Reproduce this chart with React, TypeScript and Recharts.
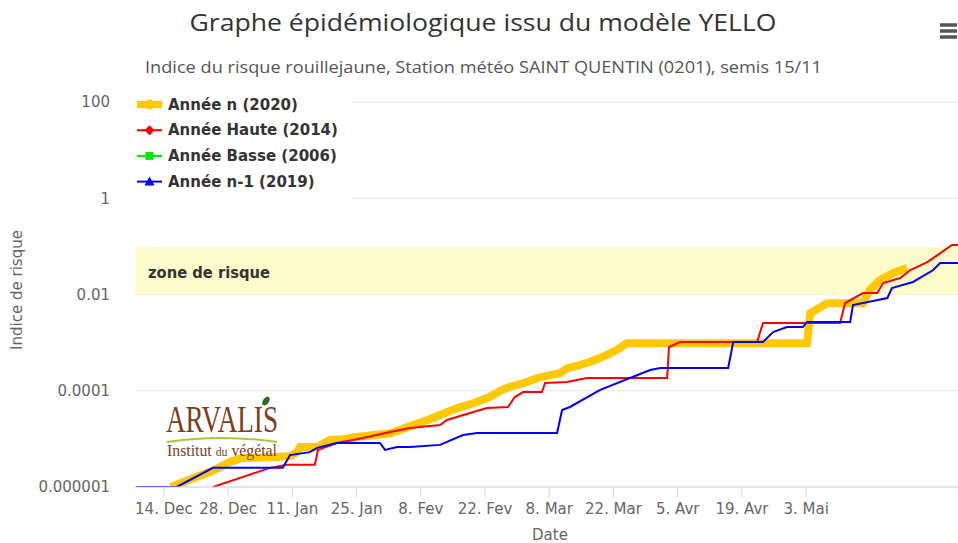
import React from 'react'
import { LineChart, Line, XAxis, YAxis, CartesianGrid, ReferenceArea } from 'recharts'

// days counted from 1 Dec (0 = 1 Dec)
const tickDays = [13, 27, 41, 55, 69, 83, 97, 111, 125, 139, 153]
const tickLabels = ['14. Dec', '28. Dec', '11. Jan', '25. Jan', '8. Fev', '22. Fev', '8. Mar', '22. Mar', '5. Avr', '19. Avr', '3. Mai']
const yTicks = [0.000001, 0.0001, 0.01, 1, 100]
const yTickLabels = ['0.000001', '0.0001', '0.01', '1', '100']

// Année n (2020)
const anneeNDays = [14.5, 23.7, 27.4, 30, 37.6, 40.5, 42, 42.7, 46.4, 49.2, 52, 55.1, 62.3, 69.5, 73.2, 76.8, 80.4, 84.1, 86.3, 88.4, 91.3, 94.3, 97.2, 99.3, 100.8, 103, 105.9, 108.8, 111.7, 113.9, 153.2, 153.9, 157.6, 165.4, 166.9, 169.1, 172, 175]
const anneeNValues = [1e-6, 2.2e-6, 3.3e-6, 4.0e-6, 4.2e-6, 4.4e-6, 5.3e-6, 6.8e-6, 6.8e-6, 9.5e-6, 9.8e-6, 1.09e-5, 1.31e-5, 2.28e-5, 3.13e-5, 4.3e-5, 5.5e-5, 7.5e-5, 1.0e-4, 1.21e-4, 1.43e-4, 1.82e-4, 2.12e-4, 2.3e-4, 2.92e-4, 3.27e-4, 4.0e-4, 5.1e-4, 7.0e-4, 9.7e-4, 9.7e-4, 4.1e-3, 6.6e-3, 6.6e-3, 1.24e-2, 2.0e-2, 2.8e-2, 3.56e-2]

// Année Haute (2014)
const hauteDays = [23.7, 36.1, 39.8, 45.9, 46.6, 50.7, 56.4, 62.3, 66.6, 73.2, 74.7, 83.4, 88, 89.5, 91.3, 95.4, 96.1, 100.9, 105.2, 122.7, 123.1, 125.5, 142.3, 143.6, 160.4, 161.5, 165.4, 168.5, 169.8, 173.5, 175.7, 179.4, 184.8, 186.1]
const hauteValues = [1e-6, 2.5e-6, 2.9e-6, 2.9e-6, 5.9e-6, 8.2e-6, 1.04e-5, 1.39e-5, 1.68e-5, 1.94e-5, 2.47e-5, 4.38e-5, 4.6e-5, 7.4e-5, 9.4e-5, 9.4e-5, 1.45e-4, 1.52e-4, 1.84e-4, 1.84e-4, 8.1e-4, 1.03e-3, 1.03e-3, 2.56e-3, 2.56e-3, 6.65e-3, 1.07e-2, 1.07e-2, 1.73e-2, 2.2e-2, 3.23e-2, 4.7e-2, 0.107, 0.107]

// Année n-1 (2019)
const n1Days = [7, 15.8, 23.7, 38.9, 40.5, 44.8, 46.4, 50.7, 60.1, 61.2, 63.8, 66.6, 73.2, 78.2, 81.3, 98.7, 99.8, 101.5, 108.1, 114.6, 119, 121.2, 136, 137.1, 143.6, 145.8, 148.8, 152.3, 153.2, 162.6, 163.2, 170.7, 171.7, 176.3, 180.7, 182.2, 186.1]
const n1Values = [1e-6, 1e-6, 2.5e-6, 2.5e-6, 4.6e-6, 5.3e-6, 6.5e-6, 8.2e-6, 8.2e-6, 5.9e-6, 6.8e-6, 6.8e-6, 7.5e-6, 1.2e-5, 1.32e-5, 1.32e-5, 3.98e-5, 4.6e-5, 1.04e-4, 1.84e-4, 2.7e-4, 2.97e-4, 2.97e-4, 1.03e-3, 1.03e-3, 1.66e-3, 2.11e-3, 2.11e-3, 2.69e-3, 2.69e-3, 6.05e-3, 8.45e-3, 1.36e-2, 1.82e-2, 3.23e-2, 4.5e-2, 4.5e-2]

const seriesNames = ['Année n (2020)', 'Année Haute (2014)', 'Année Basse (2006)', 'Année n-1 (2019)']
const seriesColors = ['#FFC800', '#FF0000', '#00E600', '#0000FF']

const toPoints = (days: number[], values: number[]) => days.map((day, i) => ({ day, v: values[i] }))

const font = "'DejaVu Sans', Verdana, sans-serif"
const W = 958
const H = 543

function LegendIcon({ i, y }: { i: number; y: number }) {
  const c = seriesColors[i]
  const cx = 149.5
  let mark
  if (i === 0) mark = <circle cx={cx} cy={y} r={5} fill={c} />
  else if (i === 1) mark = <path d={`M${cx} ${y - 5}L${cx + 5} ${y}L${cx} ${y + 5}L${cx - 5} ${y}Z`} fill={c} />
  else if (i === 2) mark = <rect x={cx - 4} y={y - 4} width={8} height={8} fill={c} />
  else mark = <path d={`M${cx} ${y - 5}L${cx + 5} ${y + 4}L${cx - 5} ${y + 4}Z`} fill={c} />
  return (
    <g>
      <line x1={137} x2={162} y1={y} y2={y} stroke={c} strokeWidth={i === 0 ? 7 : 2} />
      {mark}
    </g>
  )
}

function Overlay() {
  return (
    <svg width={W} height={H} style={{ position: 'absolute', left: 0, top: 0, pointerEvents: 'none' }}>
      <text x={483} y={31} textAnchor="middle" fontFamily="'Open Sans', sans-serif" fontSize={24} fill="#333"
        textLength={587} lengthAdjust="spacingAndGlyphs">
        Graphe épidémiologique issu du modèle YELLO
      </text>
      <text x={483.5} y={73} textAnchor="middle" fontFamily="'Open Sans', sans-serif" fontSize={16} fill="#555"
        textLength={677} lengthAdjust="spacingAndGlyphs">
        Indice du risque rouillejaune, Station météo SAINT QUENTIN (0201), semis 15/11
      </text>
      <g stroke="#555" strokeWidth={3.5}>
        <line x1={940} x2={957} y1={25} y2={25} />
        <line x1={940} x2={957} y1={31} y2={31} />
        <line x1={940} x2={957} y1={37} y2={37} />
      </g>

      <rect x={133} y={90} width={218} height={110} fill="#fff" />
      {seriesNames.map((name, i) => {
        const y = 104.5 + i * 25.7
        return (
          <g key={name}>
            <LegendIcon i={i} y={y} />
            <text x={168} y={y + 5} fontFamily={font} fontSize={15} fontWeight="bold" fill="#333">{name}</text>
          </g>
        )
      })}

      <text x={148} y={278} fontFamily={font} fontSize={15} fontWeight="bold" fill="#333"
        textLength={122} lengthAdjust="spacingAndGlyphs">zone de risque</text>

      <text transform="translate(22,290) rotate(-90)" textAnchor="middle" fontFamily={font} fontSize={15} fill="#666">
        Indice de risque
      </text>
      <text x={550} y={540} textAnchor="middle" fontFamily={font} fontSize={15} fill="#666">Date</text>

      <g>
        <text x={166} y={432} fontFamily="'Liberation Serif', serif" fontSize={37} fill="#7B3F1E"
          textLength={112} lengthAdjust="spacingAndGlyphs">ARVALIS</text>
        <ellipse cx={266} cy={401} rx={3} ry={5} fill="#2E6B1F" transform="rotate(35 266 401)" />
        <path d="M167 442 Q222 434 277 442" stroke="#A8C83C" strokeWidth={2} fill="none" />
        <text x={167} y={456} fontFamily="'Liberation Serif', serif" fontSize={16} fill="#7B3F1E"
          textLength={110} lengthAdjust="spacingAndGlyphs">
          Institut <tspan fontSize={12}>du</tspan> végétal
        </text>
      </g>
    </svg>
  )
}

export default function App() {
  const fmtX = (d: number) => tickLabels[tickDays.indexOf(d)] ?? ''
  const fmtY = (v: number) => {
    const i = yTicks.findIndex((t) => Math.abs(t - v) / t < 1e-6)
    return i >= 0 ? yTickLabels[i] : String(v)
  }
  return (
    <div style={{ position: 'absolute', left: 0, top: 0, width: W, height: H, background: '#fff' }}>
      <LineChart width={W} height={H} margin={{ top: 102, right: 0, bottom: 0, left: 0 }}>
        <CartesianGrid vertical={false} stroke="#e6e6e6" />
        <ReferenceArea y1={0.01} y2={0.1} fill="#FCFCCB" fillOpacity={1} stroke="none" ifOverflow="hidden" />
        <XAxis
          type="number"
          dataKey="day"
          domain={[6.7, 186.1]}
          ticks={tickDays}
          tickFormatter={fmtX}
          allowDataOverflow
          interval={0}
          height={56}
          stroke="#ccd6eb"
          tickLine={{ stroke: '#ccd6eb' }}
          tickSize={10}
          tickMargin={6}
          tick={{ fill: '#666', fontSize: 15, fontFamily: font }}
        />
        <YAxis
          scale="log"
          domain={[1e-6, 100]}
          ticks={yTicks}
          tickFormatter={fmtY}
          allowDataOverflow
          interval={0}
          width={135}
          axisLine={false}
          tickLine={false}
          tickSize={0}
          tickMargin={25}
          tick={{ fill: '#666', fontSize: 15, fontFamily: font }}
        />
        <Line data={toPoints(anneeNDays, anneeNValues)} dataKey="v" type="linear" stroke={seriesColors[0]}
          strokeWidth={8} dot={false} isAnimationActive={false} />
        <Line data={toPoints(hauteDays, hauteValues)} dataKey="v" type="linear" stroke={seriesColors[1]}
          strokeWidth={2} dot={false} isAnimationActive={false} />
        <Line data={toPoints(n1Days, n1Values)} dataKey="v" type="linear" stroke={seriesColors[3]}
          strokeWidth={2} dot={false} isAnimationActive={false} />
      </LineChart>
      <Overlay />
    </div>
  )
}
